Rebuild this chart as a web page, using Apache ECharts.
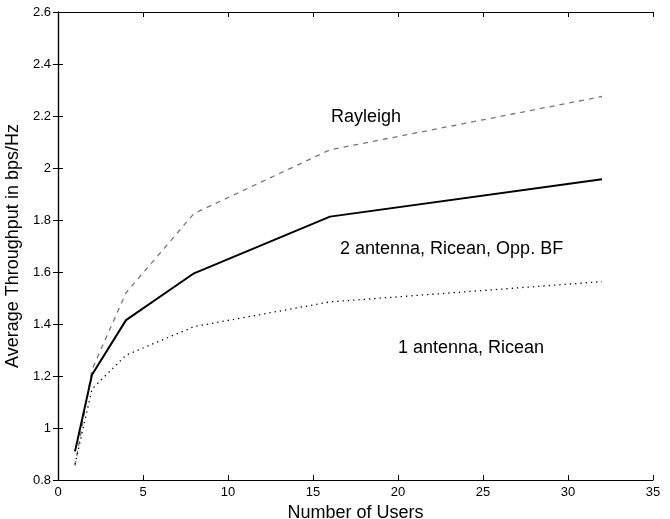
<!DOCTYPE html>
<html>
<head>
<meta charset="utf-8">
<script src="https://cdn.jsdelivr.net/npm/echarts@6/dist/echarts.min.js"></script>
<style>html,body{margin:0;padding:0;background:#fff}#c{width:670px;height:519px}</style>
</head>
<body>
<div id="c"></div>
<script>
const users = [1, 2, 4, 8, 16, 32];
const rayleigh = [0.855, 1.225, 1.52, 1.825, 2.07, 2.275];
const twoAntenna = [0.91, 1.205, 1.415, 1.595, 1.813, 1.957];
const oneAntenna = [0.86, 1.15, 1.28, 1.39, 1.485, 1.563];
const xTicks = { min: 0, max: 35, interval: 5 };
const yTicks = { min: 0.8, max: 2.6, interval: 0.2 };
const labels = ['Rayleigh', '2 antenna, Ricean, Opp. BF', '1 antenna, Ricean'];

const pair = (ys) => users.map((x, i) => [x, ys[i]]);
const font = 'Liberation Sans, Arial, Helvetica, sans-serif';
const axisLine = { show: true, lineStyle: { color: '#000', width: 1.2 } };
const tick = { show: true, inside: true, length: 5, lineStyle: { color: '#000' } };

const chart = echarts.init(document.getElementById('c'), null, { renderer: 'canvas' });
chart.setOption({
  animation: false,
  backgroundColor: '#fff',
  grid: { left: 58, right: 17, top: 12, bottom: 39, containLabel: false, outerBoundsMode: 'none' },
  xAxis: [
    { type: 'value', min: xTicks.min, max: xTicks.max, interval: xTicks.interval,
      name: 'Number of Users', nameLocation: 'middle', nameGap: 20,
      nameTextStyle: { fontFamily: font, fontSize: 18, color: '#000' },
      axisLine, axisTick: tick, splitLine: { show: false },
      axisLabel: { fontFamily: font, fontSize: 13, color: '#000', margin: 6 } },
    { type: 'value', position: 'top', min: xTicks.min, max: xTicks.max, interval: xTicks.interval,
      axisLine, axisTick: tick, splitLine: { show: false }, axisLabel: { show: false } }
  ],
  yAxis: [
    { type: 'value', min: yTicks.min, max: yTicks.max, interval: yTicks.interval,
      name: 'Average Throughput in bps/Hz', nameLocation: 'middle', nameGap: 30,
      nameTextStyle: { fontFamily: font, fontSize: 18, color: '#000' },
      axisLine, axisTick: tick, splitLine: { show: false },
      axisLabel: { fontFamily: font, fontSize: 13, color: '#000', margin: 7 } },
    { type: 'value', position: 'right', min: yTicks.min, max: yTicks.max, interval: yTicks.interval,
      axisLine, axisTick: tick, splitLine: { show: false }, axisLabel: { show: false } }
  ],
  series: [
    { type: 'line', name: labels[0], data: pair(rayleigh), symbol: 'none',
      lineStyle: { color: '#777', width: 1.3, type: [5, 5] } },
    { type: 'line', name: labels[1], data: pair(twoAntenna), symbol: 'none',
      lineStyle: { color: '#000', width: 2 } },
    { type: 'line', name: labels[2], data: pair(oneAntenna), symbol: 'none',
      lineStyle: { color: '#000', width: 1.3, type: [1.3, 4] } }
  ],
  graphic: [
    { type: 'text', x: 331, y: 117, style: { text: labels[0], font: '18px ' + font, fill: '#000', align: 'left', verticalAlign: 'middle' } },
    { type: 'text', x: 340, y: 249, style: { text: labels[1], font: '18px ' + font, fill: '#000', align: 'left', verticalAlign: 'middle' } },
    { type: 'text', x: 398, y: 348, style: { text: labels[2], font: '18px ' + font, fill: '#000', align: 'left', verticalAlign: 'middle' } }
  ]
});
</script>
</body>
</html>
